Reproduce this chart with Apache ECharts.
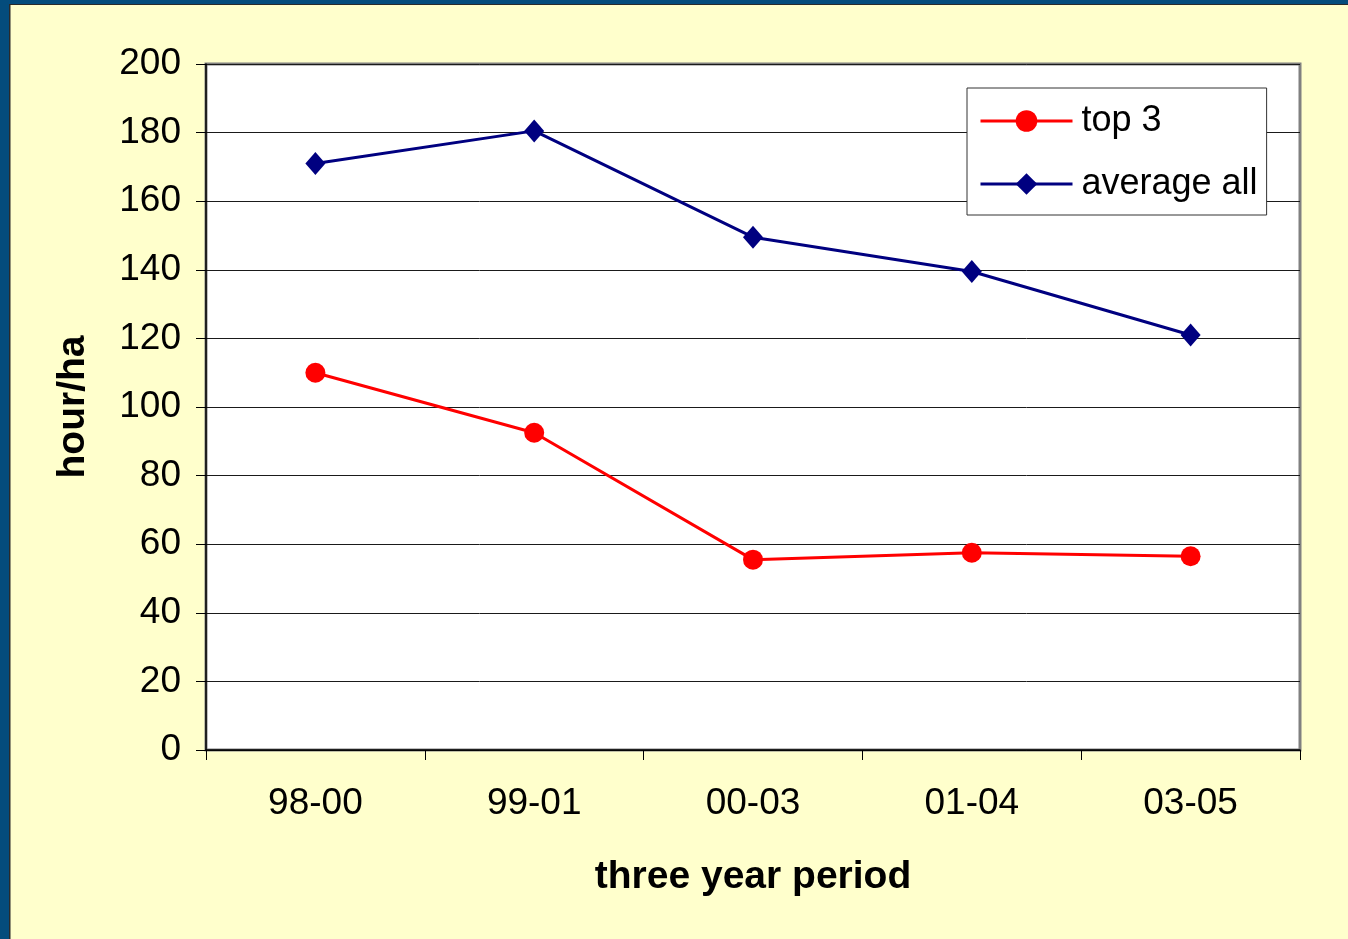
<!DOCTYPE html>
<html>
<head>
<meta charset="utf-8">
<title>hour/ha by three year period</title>
<script src="https://cdn.jsdelivr.net/npm/echarts@6/dist/echarts.min.js"></script>
<style>
  html, body { margin: 0; padding: 0; background: #FFFFCC; }
  #chart { width: 1348px; height: 939px; }
</style>
</head>
<body>
<div id="chart"></div>
<script>
// Periods on the x axis
const periods = ['98-00', '99-01', '00-03', '01-04', '03-05'];
// Working hours per hectare
const top3 = [110, 92.5, 55.5, 57.5, 56.5];
const averageAll = [171, 180.5, 149.5, 139.5, 121];
// Value axis range
const yMin = 0;
const yMax = 200;
const yStep = 20;

const FONT = '"Liberation Sans", Arial, sans-serif';
const FRAME_BLUE = '#044C7C';

const chart = echarts.init(document.getElementById('chart'), null, { renderer: 'canvas' });

chart.setOption({
  backgroundColor: '#FFFFCC',
  animation: false,
  textStyle: { fontFamily: FONT, color: '#000' },
  graphic: [
    // slide frame along the left and top edges
    { type: 'rect', left: 0, top: 0, shape: { width: 10, height: 939 }, style: { fill: FRAME_BLUE }, silent: true },
    { type: 'rect', left: 0, top: 0, shape: { width: 1348, height: 4 }, style: { fill: FRAME_BLUE }, silent: true },
    { type: 'rect', left: 9, top: 4, shape: { width: 1.5, height: 935 }, style: { fill: '#2a2a2a' }, silent: true },
    { type: 'rect', left: 9, top: 4, shape: { width: 1339, height: 1 }, style: { fill: '#2a2a2a' }, silent: true }
  ],
  grid: {
    left: 206,
    top: 64,
    right: 48,
    bottom: 189,
    show: true,
    backgroundColor: '#FFFFFF',
    borderColor: '#808080',
    borderWidth: 3
  },
  legend: {
    orient: 'vertical',
    left: 967,
    top: 88,
    padding: [12, 9, 10, 12],
    backgroundColor: '#FFFFFF',
    borderColor: '#333333',
    borderWidth: 1,
    borderRadius: 0,
    itemWidth: 92,
    itemHeight: 27,
    itemGap: 21,
    lineStyle: { width: 3 },
    textStyle: { fontSize: 36, fontFamily: FONT, color: '#000', lineHeight: 42, padding: [0, 0, 0, 4] },
    data: ['top 3', 'average all']
  },
  xAxis: {
    type: 'category',
    data: periods,
    boundaryGap: true,
    name: 'three year period',
    nameLocation: 'middle',
    nameGap: 108,
    nameTextStyle: { fontSize: 39, fontWeight: 'bold', fontFamily: FONT, color: '#000' },
    axisLine: { show: true, lineStyle: { color: '#000', width: 1.5 } },
    axisTick: { show: true, alignWithLabel: false, length: 10, lineStyle: { color: '#000', width: 1 } },
    axisLabel: { fontSize: 37, color: '#000', fontFamily: FONT, margin: 35 },
    splitLine: { show: false }
  },
  yAxis: {
    type: 'value',
    min: yMin,
    max: yMax,
    interval: yStep,
    name: 'hour/ha',
    nameLocation: 'middle',
    nameGap: 113,
    nameRotate: 90,
    nameTextStyle: { fontSize: 39, fontWeight: 'bold', fontFamily: FONT, color: '#000' },
    axisLine: { show: true, lineStyle: { color: '#000', width: 1.5 } },
    axisTick: { show: true, length: 10, lineStyle: { color: '#000', width: 1 } },
    axisLabel: { fontSize: 37, color: '#000', fontFamily: FONT, margin: 25 },
    splitLine: { show: true, lineStyle: { color: '#1a1a1a', width: 1 } }
  },
  series: [
    {
      name: 'top 3',
      type: 'line',
      data: top3,
      symbol: 'circle',
      symbolSize: 20,
      showAllSymbol: true,
      lineStyle: { color: '#FF0000', width: 3 },
      itemStyle: { color: '#FF0000' },
      z: 3
    },
    {
      name: 'average all',
      type: 'line',
      data: averageAll,
      symbol: 'diamond',
      symbolSize: [20, 23],
      showAllSymbol: true,
      lineStyle: { color: '#000080', width: 3 },
      itemStyle: { color: '#000080' },
      z: 3
    }
  ]
});
</script>
</body>
</html>
